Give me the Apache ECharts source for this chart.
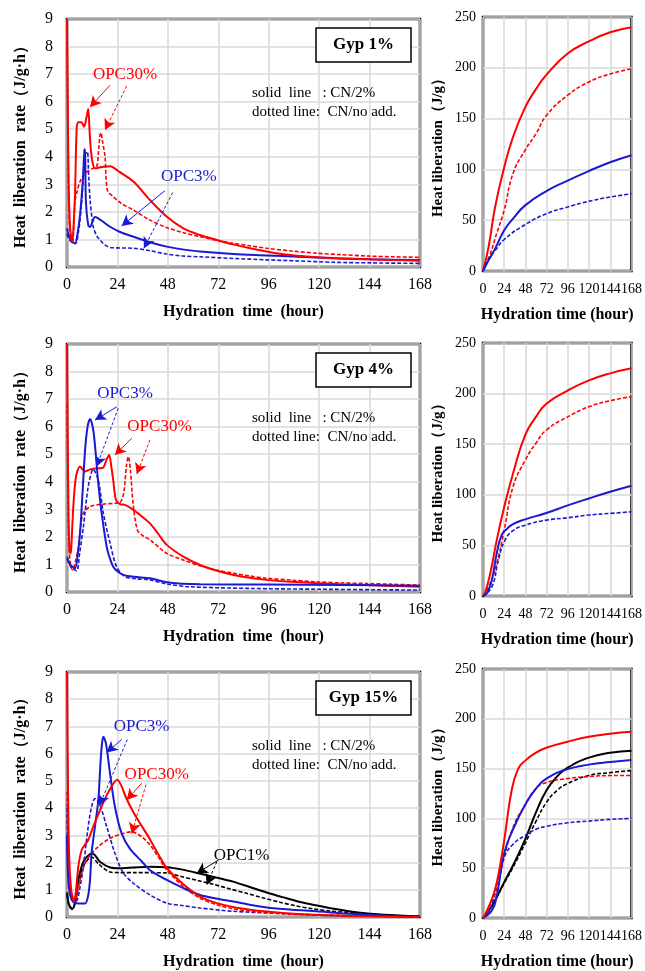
<!DOCTYPE html>
<html>
<head>
<meta charset="utf-8">
<script src="https://cdn.jsdelivr.net/npm/echarts@6/dist/echarts.min.js"></script>
<style>html,body{margin:0;padding:0;background:#fff}#c{width:645px;height:971px}</style>
</head>
<body>
<div id="c"></div>
<script>
// ---------- tick labels ----------
var xTicks = [0, 24, 48, 72, 96, 120, 144, 168];
var rateTicks = [0, 1, 2, 3, 4, 5, 6, 7, 8, 9];
var cumTicks = [0, 50, 100, 150, 200, 250];
var panelTitles = ['Gyp 1%', 'Gyp 4%', 'Gyp 15%'];

// ---------- heat liberation rate (J/g·h) vs time (h) ----------
var r1RedSolid = [[0,9],[0.3,6.5],[0.8,3],[1.5,1.4],[2.5,0.92],[3.2,1.6],[3.8,2.6],[4.6,5.0],[5.4,5.25],[6.9,5.25],[8.1,5.09],[9.2,5.4],[10.1,5.73],[10.7,5.0],[11.3,4.3],[12.1,3.82],[13.3,3.58],[15,3.6],[17.3,3.64],[20.5,3.66],[25,3.45],[31.6,3.1],[39.5,2.43],[47.4,1.83],[55.4,1.4],[63.3,1.16],[71.3,0.98],[79,0.82],[87.1,0.68],[95,0.56],[103,0.46],[111,0.4],[118.9,0.35],[130,0.31],[142.7,0.28],[155,0.25],[168,0.23]];
var r1RedDash = [[0,8.2],[0.3,5.5],[0.8,2.5],[1.5,1.2],[2.7,0.86],[3.2,1.5],[3.8,2.37],[5,2.8],[6.2,3.1],[8.6,3.4],[11.7,3.56],[14.1,3.64],[15,4.2],[15.7,4.79],[16.2,4.87],[16.8,4.6],[18.1,4.0],[19.2,2.79],[22,2.55],[26,2.3],[31.6,2.07],[39.5,1.7],[47.4,1.43],[55,1.25],[63.3,1.1],[71,0.97],[79.2,0.86],[87,0.77],[95.1,0.68],[107,0.58],[118.9,0.5],[130,0.45],[142.7,0.4],[155,0.37],[168,0.35]];
var r1BlueSolid = [[0,1.4],[1,1.1],[2.5,0.9],[3.8,0.86],[5,1.2],[6.2,1.89],[7.5,3.1],[8.3,4.24],[8.6,4.27],[9.0,2.37],[10.1,1.52],[11,1.45],[12,1.62],[13.3,1.81],[14.1,1.8],[17,1.65],[20.5,1.46],[25,1.28],[31.6,1.1],[39.5,0.9],[47.4,0.74],[55,0.64],[63.3,0.56],[79.2,0.47],[95,0.42],[110,0.37],[126.8,0.32],[145,0.28],[168,0.25]];
var r1BlueDash = [[0,1.2],[1.5,0.95],[4,0.85],[5.5,1.3],[7,2.37],[8.6,4.06],[9.7,4.18],[10.3,3.3],[11,2.43],[12.5,1.46],[14,1.15],[15.7,0.98],[18,0.8],[20.5,0.71],[26,0.69],[31.6,0.68],[39.5,0.59],[47.4,0.47],[55,0.4],[63.3,0.37],[79.2,0.31],[95,0.26],[110,0.22],[126.8,0.17],[145,0.15],[168,0.13]];

var r2RedSolid = [[0,9],[0.3,6],[0.8,2.5],[1.3,1.45],[1.8,1.4],[2.4,2.2],[3,3.1],[3.8,3.9],[4.6,4.3],[6.2,4.55],[7.4,4.45],[8.6,4.37],[11,4.45],[14.9,4.49],[17.3,4.52],[18.8,4.8],[20.1,4.97],[21,4.6],[22,4.06],[23.3,3.34],[25.2,3.19],[27.6,3.16],[31.6,2.98],[35.5,2.75],[39.5,2.49],[43.5,2.1],[47.5,1.71],[55.4,1.28],[63.3,0.98],[71,0.78],[79.2,0.62],[87,0.52],[95.1,0.44],[107,0.37],[118.9,0.32],[130,0.28],[142.7,0.25],[155,0.22],[168,0.19]];
var r2RedDash = [[0,6.8],[0.4,3.5],[1,1.6],[1.8,0.95],[2.7,0.8],[4,1.1],[5.4,1.64],[6.5,2.4],[7.8,2.86],[11,3.1],[17.3,3.19],[23.6,3.22],[25.2,3.24],[27,3.6],[28.3,4.6],[29.2,4.91],[30.2,4.4],[31.6,3.1],[33.5,2.25],[36,2.05],[39.5,1.89],[47.5,1.4],[55.4,1.16],[63.3,0.95],[71,0.8],[79.2,0.68],[87,0.58],[95.1,0.5],[107,0.43],[118.9,0.37],[130,0.33],[142.7,0.31],[155,0.28],[168,0.25]];
var r2BlueSolid = [[0,1.28],[1.5,1.0],[3.8,0.86],[5,1.3],[6.2,2.13],[7.4,3.6],[8.6,5.15],[9.8,6.0],[11,6.28],[12.5,5.88],[13.7,5.0],[14.9,3.94],[16.5,2.86],[18.9,1.64],[20.5,1.2],[22,0.92],[24,0.75],[26.8,0.62],[32,0.55],[39.5,0.5],[47.5,0.35],[55,0.3],[63.3,0.28],[95,0.27],[130,0.25],[168,0.23]];
var r2BlueDash = [[0,1.2],[2,0.9],[4.6,0.77],[6,1.4],[7.8,2.37],[10.1,3.82],[12.5,4.45],[14.9,4.06],[17.3,2.86],[20.5,1.77],[23.6,0.92],[27.6,0.56],[33,0.48],[39.5,0.44],[47.5,0.29],[58.5,0.19],[87,0.13],[120,0.1],[168,0.07]];

var r3RedSolid = [[0,9],[0.3,6],[0.7,3.5],[1.1,2.09],[2,1.0],[3.3,0.6],[4.2,0.9],[5.4,1.86],[7,2.47],[8.5,2.65],[10.1,2.83],[12.5,3.32],[15.7,3.92],[19.7,4.59],[23.9,5.04],[26,4.8],[28,4.4],[31.6,3.85],[35.5,3.35],[39.5,2.85],[43.5,2.3],[47.5,1.8],[55.4,1.2],[63.3,0.75],[71.3,0.51],[79,0.37],[87.1,0.27],[95,0.2],[103,0.15],[118,0.08],[135,0.04],[150,0.02],[168,0]];
var r3RedDash = [[0,4.6],[0.5,2.5],[1.2,1.2],[2.5,0.7],[3.8,0.57],[5,0.9],[6.2,1.37],[7.8,1.8],[9.4,2.1],[14.1,2.53],[20.5,2.89],[26.8,3.07],[30.8,3.13],[35.5,2.95],[39.5,2.65],[43.5,2.2],[47.5,1.72],[55.4,1.12],[63.3,0.69],[71.3,0.45],[79,0.3],[87,0.21],[103,0.12],[118.9,0.08],[140,0.04],[168,0]];
var r3BlueSolid = [[0,3.0],[0.5,1.5],[1.5,0.8],[3,0.55],[5.4,0.5],[8.6,0.5],[10.1,0.8],[11,1.4],[11.7,2.34],[13.3,3.32],[14.9,4.29],[16,5.75],[16.7,6.4],[17.3,6.62],[18.6,6.35],[20.5,5.26],[22.8,4.05],[26,3.07],[30,2.5],[35.5,2.05],[39.5,1.72],[47.5,1.36],[55.4,1.06],[63.3,0.81],[71,0.68],[79.2,0.57],[87,0.45],[95.1,0.35],[107,0.27],[118.9,0.21],[130,0.14],[142.7,0.08],[155,0.04],[168,0]];
var r3BlueDash = [[0,4.0],[0.5,2.0],[1.5,0.9],[3,0.6],[4.5,0.6],[6.2,1.1],[7.8,1.86],[10.1,3.32],[11.7,4.05],[13.3,4.35],[15.4,4.17],[18.9,3.32],[22.8,2.34],[26.8,1.62],[31.6,1.24],[39.5,0.81],[47.5,0.51],[55,0.42],[63.3,0.33],[79,0.21],[103,0.12],[126.8,0.05],[150,0.02],[168,0]];
var r3BlackSolid = [[0,0.9],[1,0.45],[2.5,0.3],[4,0.6],[5.2,1.3],[7.6,2.0],[10,2.25],[12.2,2.33],[15.7,2.03],[20.5,1.82],[25.2,1.79],[31.6,1.82],[39.5,1.85],[47.5,1.83],[55,1.74],[63,1.6],[71,1.45],[79,1.3],[87,1.1],[95,0.9],[103,0.72],[111,0.55],[119,0.42],[127,0.3],[135,0.2],[143,0.13],[151,0.08],[168,0.02]];
var r3BlackDash = [[0,0.8],[1,0.4],[2.5,0.28],[4,0.55],[5.5,1.25],[8,1.9],[11.7,2.2],[15,1.95],[20.5,1.65],[25,1.63],[31.6,1.63],[47.5,1.62],[53.8,1.5],[61.7,1.35],[69.7,1.2],[77.6,1.03],[85.5,0.87],[93.4,0.7],[101.4,0.54],[109,0.41],[117,0.3],[125,0.22],[133,0.17],[150,0.08],[168,0.02]];

// ---------- cumulative heat liberation (J/g) vs time (h) ----------
var c1RedSolid = [[0,0],[6.3,23.6],[13.7,63],[24,102],[34,132],[47.7,161],[59.9,179],[71.7,193],[95.8,214],[119.8,226],[143.9,235],[168,240]];
var c1RedDash = [[0,0],[6.3,12],[15.5,37],[24,60],[34,96],[47.7,119],[59.9,135],[71.7,153],[95.8,173],[119.8,186],[143.9,194],[168,199]];
var c1BlueSolid = [[0,0],[6.3,10.5],[13.7,22],[24,40],[34,51.5],[47.7,64.6],[71.7,78.7],[95.8,89],[119.8,98.4],[143.9,107],[168,114]];
var c1BlueDash = [[0,0],[6.3,12],[13.7,20],[24,31],[47.7,45.6],[71.7,56.4],[95.8,63],[119.8,68.6],[143.9,72.8],[168,76]];

var c2RedSolid = [[0,0],[2.6,4],[8.1,22],[15.5,55],[24,88],[34,121],[47.7,159],[59.9,177],[71.7,190],[95.8,203],[119.8,213],[143.9,220],[168,225]];
var c2RedDash = [[0,0],[8.1,12.5],[15.5,32],[24,65],[34,108],[47.7,134],[59.9,151],[71.7,164],[95.8,177],[119.8,187],[143.9,193],[168,197]];
var c2BlueSolid = [[0,0],[4.4,2.6],[10,16],[15.5,42],[21,60],[26.6,66],[34,71],[47.7,75.7],[71.7,82],[95.8,89.5],[119.8,96.4],[143.9,103],[168,109]];
var c2BlueDash = [[0,0],[10,9],[17.4,35.5],[24.8,55],[34,64.5],[47.7,70],[71.7,75],[95.8,77.3],[119.8,80],[143.9,81.6],[168,83.2]];

var c3RedSolid = [[0,0],[2.6,4],[10,19],[15.5,35],[24,78],[32.2,127],[39.6,149.5],[47.7,158],[59.9,166],[71.7,171],[95.8,177],[119.8,182],[143.9,185],[168,187]];
var c3RedDash = [[0,0],[4.4,4],[15.5,29],[24,61],[34,91],[47.7,113.6],[59.9,130],[71.7,136],[95.8,140],[119.8,142],[143.9,143],[168,143]];
var c3BlueSolid = [[0,0],[10,7.5],[15.5,22],[24,65],[34,89],[47.7,113.6],[59.9,130],[71.7,140],[95.8,149.5],[119.8,154],[143.9,156.6],[168,158.6]];
var c3BlueDash = [[0,0],[8.1,9],[15.5,35],[24,61],[34,74],[47.7,83],[59.9,89],[71.7,92],[95.8,95.6],[119.8,97.3],[143.9,99],[168,100]];
var c3BlackSolid = [[0,0],[10,12],[24,36],[34,53],[47.7,79],[59.9,106],[71.7,128],[83.7,142],[95.8,151],[119.8,161],[143.9,166],[168,168]];
var c3BlackDash = [[0,0],[10,12],[24,35],[34,51],[47.7,75],[59.9,97],[71.7,116],[83.7,128],[95.8,135],[119.8,143],[143.9,146],[168,148]];

// ---------- annotation arrows (data coordinates: [t, value]) ----------
var arrows1 = [
  {c:'red',  d:false, from:[20.5,6.6],  to:[10.9,5.8]},
  {c:'red',  d:true,  from:[28.4,6.57], to:[18.1,4.97]},
  {c:'blue', d:false, from:[46.6,2.77], to:[26.0,1.49]},
  {c:'blue', d:true,  from:[50.3,2.70], to:[36.6,0.68]}
];
var arrows2 = [
  {c:'blue', d:false, from:[23.7,6.72], to:[13.3,6.24]},
  {c:'blue', d:true,  from:[24.4,6.67], to:[14.1,4.55]},
  {c:'red',  d:false, from:[30.8,5.58], to:[22.8,4.97]},
  {c:'red',  d:true,  from:[39.5,5.52], to:[33.2,4.28]}
];
var arrows3 = [
  {c:'blue',  d:false, from:[26.0,6.52], to:[18.9,6.04]},
  {c:'blue',  d:true,  from:[28.7,6.52], to:[15.4,4.09]},
  {c:'red',   d:false, from:[35.5,4.91], to:[28.4,4.30]},
  {c:'red',   d:true,  from:[37.6,4.86], to:[30.8,3.06]},
  {c:'black', d:false, from:[72.0,2.09], to:[61.7,1.60]},
  {c:'black', d:true,  from:[71.3,2.03], to:[66.5,1.18]}
];

var COL = {red:'#ff0000', blue:'#1a1ad0', black:'#000000'};
var SERIF = "'Liberation Serif','Times New Roman',serif";

var chart = echarts.init(document.getElementById('c'), null, {renderer:'canvas'});

var grids = [
  {left:67, top:19, width:353, height:248},
  {left:483, top:17, width:151, height:254},
  {left:67, top:344, width:353, height:248},
  {left:483, top:343, width:151, height:253},
  {left:67, top:672, width:353, height:247},
  {left:483, top:669, width:151, height:254}
];
grids.forEach(function(g){ g.show = true; g.borderColor = '#000'; g.borderWidth = 2.5; g.backgroundColor = '#fff'; g.containLabel = false; g.z = 0; });

var xAxes = [], yAxes = [];
grids.forEach(function(g, i){
  var isLeft = (i % 2 === 0);
  xAxes.push({
    type:'value', gridIndex:i, min:xTicks[0], max:xTicks[xTicks.length-1], interval:24,
    name: isLeft ? 'Hydration  time  (hour)' : 'Hydration time (hour)',
    nameLocation:'middle', nameGap: isLeft ? 37 : 36,
    nameTextStyle:{fontFamily:SERIF, fontWeight:'bold', fontSize:16, color:'#000'},
    axisLine:{show:false}, axisTick:{show:false},
    axisLabel:{fontFamily:SERIF, fontSize: isLeft ? 16 : 14, color:'#000', margin: isLeft ? 10 : 11, hideOverlap:false, showMinLabel:true, showMaxLabel:true},
    splitLine:{show:true, lineStyle:{color:'#d9d9d9', width:1.5}}
  });
  yAxes.push({
    type:'value', gridIndex:i,
    min: isLeft ? rateTicks[0] : cumTicks[0],
    max: isLeft ? rateTicks[rateTicks.length-1] : cumTicks[cumTicks.length-1],
    interval: isLeft ? 1 : 50,
    name: isLeft ? 'Heat  liberation  rate（J/g·h）' : 'Heat liberation（J/g）',
    nameLocation:'middle', nameGap: isLeft ? 38 : 37, nameRotate:90,
    nameTextStyle:{fontFamily:SERIF, fontWeight:'bold', fontSize: isLeft ? 16 : 15, color:'#000'},
    axisLine:{show:false}, axisTick:{show:false},
    axisLabel:{fontFamily:SERIF, fontSize: isLeft ? 16 : 14, color:'#000', margin: isLeft ? 14 : 7},
    splitLine:{show:true, lineStyle:{color:'#d9d9d9', width:1.5}}
  });
});

function mkSeries(data, gi, color, dashed, smooth, arrows){
  var s = {
    type:'line', xAxisIndex:gi, yAxisIndex:gi, data:data, showSymbol:false, symbol:'none',
    smooth: smooth, clip:true, z:3,
    lineStyle:{color:color, width: dashed ? 1.6 : 2, type: dashed ? [4,2] : 'solid'},
    emphasis:{disabled:true}, silent:true, animation:false
  };
  if (arrows) {
    s.markLine = {
      silent:true, animation:false, symbol:['none','arrow'], symbolSize:[9,11], precision:3,
      label:{show:false},
      data: arrows.map(function(a){
        return [
          {coord:a.from, lineStyle:{color:COL[a.c], width:1, type: a.d ? [3,2] : 'solid'}, itemStyle:{color:COL[a.c]}},
          {coord:a.to}
        ];
      })
    };
  }
  return s;
}

var S = 0.3, SC = 0.5;
var series = [
  mkSeries(r1RedDash, 0, COL.red, true, S),
  mkSeries(r1BlueDash, 0, COL.blue, true, S),
  mkSeries(r1BlueSolid, 0, COL.blue, false, S),
  mkSeries(r1RedSolid, 0, COL.red, false, S, arrows1),
  mkSeries(c1RedSolid, 1, COL.red, false, SC),
  mkSeries(c1RedDash, 1, COL.red, true, SC),
  mkSeries(c1BlueSolid, 1, COL.blue, false, SC),
  mkSeries(c1BlueDash, 1, COL.blue, true, SC),

  mkSeries(r2RedDash, 2, COL.red, true, S),
  mkSeries(r2BlueDash, 2, COL.blue, true, S),
  mkSeries(r2RedSolid, 2, COL.red, false, S),
  mkSeries(r2BlueSolid, 2, COL.blue, false, S, arrows2),
  mkSeries(c2RedSolid, 3, COL.red, false, SC),
  mkSeries(c2RedDash, 3, COL.red, true, SC),
  mkSeries(c2BlueSolid, 3, COL.blue, false, SC),
  mkSeries(c2BlueDash, 3, COL.blue, true, SC),

  mkSeries(r3BlackDash, 4, COL.black, true, S),
  mkSeries(r3BlackSolid, 4, COL.black, false, S),
  mkSeries(r3BlueDash, 4, COL.blue, true, S),
  mkSeries(r3RedDash, 4, COL.red, true, S),
  mkSeries(r3BlueSolid, 4, COL.blue, false, S),
  mkSeries(r3RedSolid, 4, COL.red, false, S, arrows3),
  mkSeries(c3BlackSolid, 5, COL.black, false, SC),
  mkSeries(c3BlackDash, 5, COL.black, true, SC),
  mkSeries(c3RedDash, 5, COL.red, true, SC),
  mkSeries(c3BlueDash, 5, COL.blue, true, SC),
  mkSeries(c3BlueSolid, 5, COL.blue, false, SC),
  mkSeries(c3RedSolid, 5, COL.red, false, SC)
];

chart.setOption({
  animation:false,
  backgroundColor:'#fff',
  grid:grids, xAxis:xAxes, yAxis:yAxes, series:series
});

// ---------- text annotations, placed from data coordinates ----------
function px(gi, pt){ return chart.convertToPixel({gridIndex:gi}, pt); }
function label(gi, pt, text, color, size, align){
  var p = px(gi, pt);
  return {type:'text', z:10, style:{text:text, x:p[0], y:p[1], fill:color, font: size + 'px ' + SERIF,
          textAlign:align || 'center', textVerticalAlign:'middle', align:align || 'center', verticalAlign:'middle'}};
}
var rowGrid = [0, 2, 4];
var rowLabels = [
  [[27.6,7.0,'OPC30%','red'],[58.0,3.27,'OPC3%','blue']],
  [[27.6,7.2,'OPC3%','blue'],[44.0,6.0,'OPC30%','red']],
  [[35.5,7.0,'OPC3%','blue'],[42.7,5.25,'OPC30%','red'],[83.1,2.25,'OPC1%','black']]
];
var gfx = [];
rowGrid.forEach(function(gi, r){
  rowLabels[r].forEach(function(l){ gfx.push(label(gi, [l[0], l[1]], l[2], COL[l[3]], 17, 'center')); });
  var gtop = grids[gi].top;
  // legend notes
  gfx.push({type:'text', z:10, style:{text:'solid  line   : CN/2%', x:252, y:gtop + 74, fill:'#000', font:'15px ' + SERIF, textVerticalAlign:'middle', verticalAlign:'middle'}});
  gfx.push({type:'text', z:10, style:{text:'dotted line:  CN/no add.', x:252, y:gtop + 93, fill:'#000', font:'15px ' + SERIF, textVerticalAlign:'middle', verticalAlign:'middle'}});
  // panel title box
  gfx.push({type:'rect', z:10, shape:{x:316, y:gtop + 9, width:95, height:34}, style:{fill:'#fff', stroke:'#000', lineWidth:1.5}});
  gfx.push({type:'text', z:11, style:{text:panelTitles[r], x:363.5, y:gtop + 26, fill:'#000', font:'bold 17px ' + SERIF, textAlign:'center', align:'center', textVerticalAlign:'middle', verticalAlign:'middle'}});
});
chart.setOption({graphic:{elements:gfx}});
</script>
</body>
</html>
